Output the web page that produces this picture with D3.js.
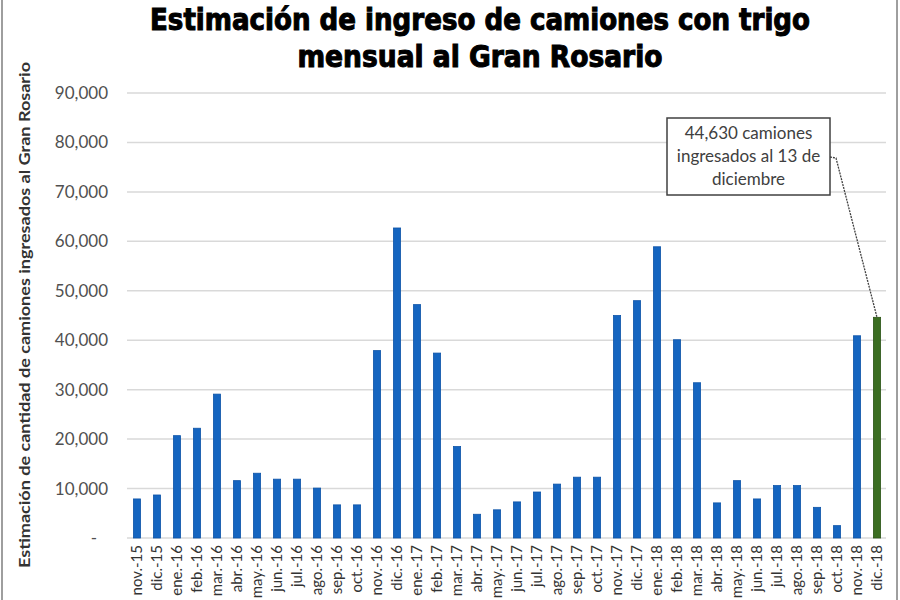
<!DOCTYPE html>
<html><head><meta charset="utf-8">
<script src="https://cdn.jsdelivr.net/npm/d3@7"></script>
<style>body{margin:0;background:#fff}</style>
</head><body><svg id="c" width="900" height="600"></svg>
<script>
const categories = ["nov.-15","dic.-15","ene.-16","feb.-16","mar.-16","abr.-16","may.-16","jun.-16","jul.-16","ago.-16","sep.-16","oct.-16","nov.-16","dic.-16","ene.-17","feb.-17","mar.-17","abr.-17","may.-17","jun.-17","jul.-17","ago.-17","sep.-17","oct.-17","nov.-17","dic.-17","ene.-18","feb.-18","mar.-18","abr.-18","may.-18","jun.-18","jul.-18","ago.-18","sep.-18","oct.-18","nov.-18","dic.-18"];
const values = [7900,8700,20700,22200,29100,11600,13100,11900,11900,10100,6700,6700,37900,62700,47200,37400,18500,4800,5700,7300,9300,10900,12300,12300,45000,48000,58900,40100,31400,7100,11600,7900,10600,10600,6200,2500,40900,44630];
const highlight = "dic.-18";
const yTicks = [0,10000,20000,30000,40000,50000,60000,70000,80000,90000];
const titleLines = ["Estimación de ingreso de camiones con trigo","mensual al Gran Rosario"];
const yTitle = "Estimación de cantidad de camiones ingresados al Gran Rosario";
const annotation = ["44,630 camiones","ingresados al 13 de","diciembre"];

const svg = d3.select("#c");
const x = d3.scaleBand().domain(categories).range([127, 887]).paddingInner(0.64).paddingOuter(0.32);
const y = d3.scaleLinear().domain([0, 90000]).range([538, 93]);

// frame
svg.append("rect").attr("x",2).attr("y",-5).attr("width",895).attr("height",615)
  .attr("fill","none").attr("stroke","#7f7f7f").attr("stroke-width",1.5);

// title
svg.selectAll("text.title").data(titleLines).join("text").attr("class","title")
  .attr("x",480).attr("y",(d,i)=>30+i*37).attr("text-anchor","middle")
  .attr("font-family","'Liberation Sans Narrow','DejaVu Sans Condensed',sans-serif")
  .attr("font-weight","bold").attr("font-size",30).attr("fill","#000")
  .attr("stroke","#000").attr("stroke-width",1)
  .attr("textLength",(d,i)=>i===0?660:365).attr("lengthAdjust","spacingAndGlyphs")
  .text(d=>d);

// y axis labels
const yAxis = d3.axisLeft(y).tickValues(yTicks).tickSize(0).tickPadding(0)
  .tickFormat(d => d === 0 ? "-" : d3.format(",")(d));
const gy = svg.append("g").attr("transform","translate(108,0)").call(yAxis);
gy.select(".domain").remove();
gy.selectAll("text").attr("font-family","Lato, 'Open Sans', sans-serif").attr("font-size",17).attr("fill","#505050")
  .attr("x", d => d === 0 ? -11 : 0);

// gridlines
svg.append("g").selectAll("line").data(yTicks).join("line")
  .attr("x1",127).attr("x2",886).attr("y1",d=>y(d)).attr("y2",d=>y(d))
  .attr("stroke","#d9d9d9").attr("stroke-width",1.5);

// bars
svg.append("g").selectAll("rect").data(categories).join("rect")
  .attr("x",d=>x(d)).attr("width",x.bandwidth())
  .attr("y",(d,i)=>y(values[i])).attr("height",(d,i)=>y(0)-y(values[i]))
  .attr("fill",d=>d===highlight?"#3b6e22":"#1565c0")
  .attr("stroke",d=>d===highlight?"#2c5518":"#0f55a8").attr("stroke-width",0.8);

// x axis labels
const xAxis = d3.axisBottom(x).tickSize(0).tickPadding(0);
const gx = svg.append("g").attr("transform","translate(0,538)").call(xAxis);
gx.select(".domain").remove();
gx.selectAll("text").attr("font-family","Lato, 'Open Sans', sans-serif").attr("font-size",15).attr("fill","#333")
  .attr("text-anchor","end").attr("dy","0.35em").attr("transform","translate(0,7) rotate(-90)").attr("x",0).attr("y",0);

// y title
svg.append("text").attr("transform","translate(30,315) rotate(-90)").attr("text-anchor","middle")
  .attr("font-family","Lato, 'Open Sans', sans-serif").attr("font-size",15.5).attr("font-weight","bold").attr("fill","#333")
  .attr("textLength",506).attr("lengthAdjust","spacingAndGlyphs")
  .text(yTitle);

// annotation
const hx = x(highlight) + x.bandwidth()/2;
const hy = y(values[categories.indexOf(highlight)]);
svg.append("path").attr("d",`M830,157 L836,158 L${hx},${hy}`).attr("fill","none")
  .attr("stroke","#404040").attr("stroke-width",1.3).attr("stroke-dasharray","2,1");
svg.append("rect").attr("x",667).attr("y",118).attr("width",163).attr("height",77)
  .attr("fill","#fff").attr("stroke","#404040").attr("stroke-width",1.5);
svg.selectAll("text.ann").data(annotation).join("text").attr("class","ann")
  .attr("x",748.5).attr("y",(d,i)=>139+i*23).attr("text-anchor","middle")
  .attr("font-family","Lato, 'Open Sans', sans-serif").attr("font-size",17).attr("fill","#404040")
  .text(d=>d);
</script></body></html>
